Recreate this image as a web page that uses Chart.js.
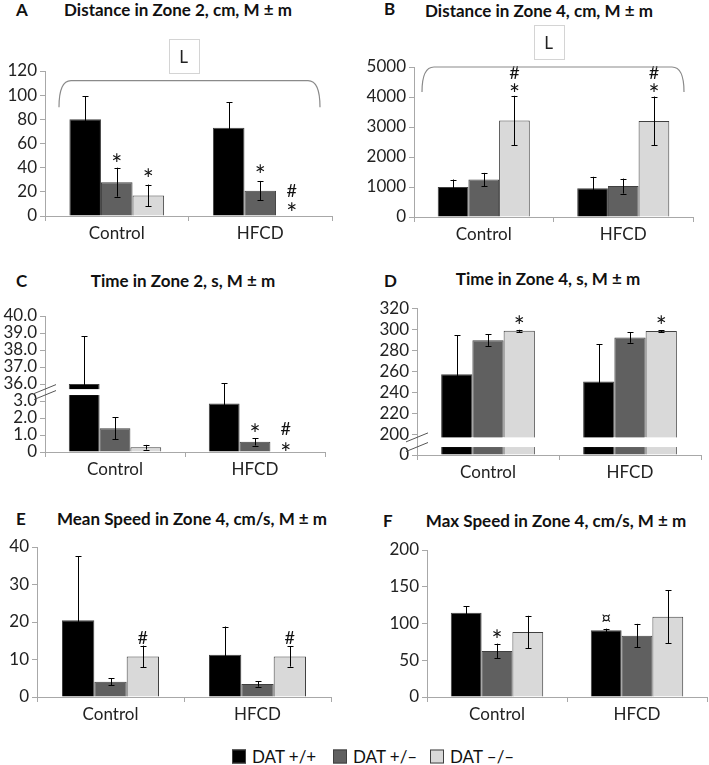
<!DOCTYPE html>
<html>
<head>
<meta charset="utf-8">
<script src="https://cdn.jsdelivr.net/npm/chart.js@4.4.1/dist/chart.umd.min.js"></script>
<style>
  body { margin: 0; background: #fff; width: 709px; height: 765px; position: relative; overflow: hidden; font-family: Lato, sans-serif; color: #111; }
  canvas { position: absolute; }
  .letter { position: absolute; font-weight: bold; font-size: 17px; transform: translateY(-50%); }
  .title { position: absolute; font-weight: bold; font-size: 17px; white-space: nowrap; transform: translate(-50%, -50%); }
  .leg { position: absolute; font-size: 17px; white-space: nowrap; transform: translateY(-50%); display: flex; align-items: center; }
  .leg i { display: inline-block; width: 14px; height: 14px; border: 1px solid #404040; box-sizing: border-box; margin-right: 6px; }
</style>
</head>
<body>
<div class="letter" style="left:16px;top:9px">A</div>
<div class="title" style="left:178px;top:9px">Distance in Zone 2, cm, M ± m</div>
<div class="letter" style="left:384px;top:8px">B</div>
<div class="title" style="left:539px;top:10px">Distance in Zone 4, cm, M ± m</div>
<div class="letter" style="left:16px;top:280px">C</div>
<div class="title" style="left:183px;top:280px">Time in Zone 2, s, M ± m</div>
<div class="letter" style="left:384px;top:280px">D</div>
<div class="title" style="left:548px;top:278px">Time in Zone 4, s, M ± m</div>
<div class="letter" style="left:16px;top:518px">E</div>
<div class="title" style="left:192px;top:518px">Mean Speed in Zone 4, cm/s, M ± m</div>
<div class="letter" style="left:383px;top:520px">F</div>
<div class="title" style="left:556px;top:520px">Max Speed in Zone 4, cm/s, M ± m</div>

<canvas id="pA" width="354" height="215" style="left:0;top:30px"></canvas>
<canvas id="pB" width="355" height="225" style="left:354px;top:20px"></canvas>
<canvas id="pC" width="354" height="190" style="left:0;top:300px"></canvas>
<canvas id="pD" width="355" height="195" style="left:354px;top:295px"></canvas>
<canvas id="pE" width="354" height="200" style="left:0;top:530px"></canvas>
<canvas id="pF" width="355" height="200" style="left:354px;top:530px"></canvas>

<div id="legend"></div>

<script>
const groups = ['Control', 'HFCD'];
const genotypes = ['DAT +/+', 'DAT +/–', 'DAT –/–'];

// one row per genotype, columns = [Control, HFCD]
const distZone2 = [[80, 73], [28, 21], [17, 0]];
const distZone2Err = [[19, 21], [12, 8], [9, 0]];
const distZone4 = [[1000, 960], [1250, 1030], [3220, 3200]];
const distZone4Err = [[250, 380], [220, 250], [820, 815]];
const timeZone2 = [[36.0, 2.85], [1.4, 0.6], [0.28, 0]];
const timeZone2Err = [[2.8, 1.2], [0.65, 0.22], [0.14, 0]];
const timeZone4 = [[257, 250], [289.5, 292], [298.4, 298.2]];
const timeZone4Err = [[37, 35.5], [5.5, 5], [1, 1]];
const meanSpeed = [[20.5, 11.3], [4.1, 3.5], [10.8, 10.8]];
const meanSpeedErr = [[17, 7.5], [0.9, 0.75], [2.9, 2.7]];
const maxSpeed = [[114.6, 90.7], [62.6, 83.5], [88.5, 109.3]];
const maxSpeedErr = [[9, 2.3], [10, 16], [22, 36]];

const timeZone2Ticks = ['0', '1.0', '2.0', '3.0', '36.0', '37.0', '38.0', '39.0', '40.0'];
const timeZone4Ticks = ['0', '200', '220', '240', '260', '280', '300', '320'];

// significance marks: [group, genotype, symbol, value at the symbol's centre]
const marksA = [[0, 1, '*', 48.5], [0, 2, '*', 36], [1, 1, '*', 39.5], [1, 2, '#', 21.4], [1, 2, '*', 8.2]];
const marksB = [[0, 2, '#', 4830], [0, 2, '*', 4330], [1, 2, '#', 4830], [1, 2, '*', 4330]];
const marksC = [[1, 1, '*', 1.45], [1, 2, '#', 1.4], [1, 2, '*', 0.3]];
const marksD = [[0, 2, '*', 309], [1, 2, '*', 309]];
const marksE = [[0, 2, '#', 16], [1, 2, '#', 16]];
const marksF = [[0, 1, '*', 87], [1, 0, '¤', 107.5]];

const barColors = ['#000000', '#606060', '#d9d9d9'];
const axisColor = '#a8a8a8';
const font = "Lato, sans-serif";

const extras = {
    id: 'extras',
    afterDatasetsDraw(chart, args, o) {
        const ctx = chart.ctx, xs = chart.scales.x, ys = chart.scales.y;
        const toAxis = o.toAxis;
        ctx.save();
        // error bars
        ctx.strokeStyle = '#000';
        ctx.lineWidth = 1;
        o.means.forEach((row, gi) => {
            const meta = chart.getDatasetMeta(gi);
            row.forEach((v, ci) => {
                const e = o.errs[gi][ci];
                if (!e) return;
                let lo, hi;
                if (o.errAxisUnits) { lo = toAxis(v) - e; hi = toAxis(v) + e; }
                else { lo = toAxis(v - e); hi = toAxis(v + e); }
                const x = Math.round(meta.data[ci].x) + 0.5;
                const y1 = ys.getPixelForValue(lo), y2 = ys.getPixelForValue(hi);
                ctx.beginPath();
                ctx.moveTo(x, y1); ctx.lineTo(x, y2);
                ctx.moveTo(x - 3, Math.round(y1) + 0.5); ctx.lineTo(x + 3, Math.round(y1) + 0.5);
                ctx.moveTo(x - 3, Math.round(y2) + 0.5); ctx.lineTo(x + 3, Math.round(y2) + 0.5);
                ctx.stroke();
            });
        });
        // broken axis gap
        if (o.gap) {
            const yA = ys.getPixelForValue(o.gap[1]), yB = ys.getPixelForValue(o.gap[0]);
            ctx.fillStyle = '#fff';
            chart.data.datasets.forEach((ds, gi) => {
                chart.getDatasetMeta(gi).data.forEach((bar, ci) => {
                    if (ds.data[ci] > o.gap[1]) ctx.fillRect(bar.x - bar.width / 2 - 1, yA, bar.width + 2, yB - yA);
                });
            });
            const ax = xs.left;
            ctx.strokeStyle = '#555';
            ctx.beginPath();
            [yA, yB].forEach(y => { ctx.moveTo(ax - 11, y + 4.5); ctx.lineTo(ax + 11, y - 4.5); });
            ctx.stroke();
        }
        // significance marks, centred on their glyph
        ctx.fillStyle = '#111';
        ctx.textAlign = 'center';
        ctx.textBaseline = 'alphabetic';
        o.marks.forEach(([ci, gi, s, v]) => {
            ctx.font = (s === '*' ? '26px ' : '18px ') + font;
            const m = ctx.measureText(s);
            const x = chart.getDatasetMeta(gi).data[ci].x;
            const y = ys.getPixelForValue(toAxis(v));
            ctx.fillText(s, x, y + (m.actualBoundingBoxAscent - m.actualBoundingBoxDescent) / 2);
        });
        // interaction bracket with "L" box
        if (o.bracket) {
            const b = o.bracket;
            const x1 = xs.left + b.inL, x2 = xs.right - b.inR;
            const yt = ys.getPixelForValue(b.top), ye = ys.getPixelForValue(b.end);
            ctx.strokeStyle = '#8a8a8a';
            ctx.lineWidth = 1.2;
            ctx.beginPath();
            ctx.moveTo(x1, ye);
            ctx.quadraticCurveTo(x1, yt, x1 + 12, yt);
            ctx.lineTo(x2 - 12, yt);
            ctx.quadraticCurveTo(x2, yt, x2, ye);
            ctx.stroke();
            const cx = (xs.left + xs.right) / 2 - 5;
            ctx.strokeStyle = '#d4d4d4';
            ctx.lineWidth = 1;
            ctx.strokeRect(Math.round(cx - 15) + 0.5, Math.round(yt - 42) + 0.5, 30, 34);
            ctx.font = '17px ' + font;
            ctx.fillStyle = '#222';
            ctx.textBaseline = 'middle';
            ctx.fillText('L', cx, yt - 23);
        }
        ctx.restore();
    }
};

function makePanel(id, means, errs, o) {
    const toAxis = o.toAxis || (v => v);
    const canvas = document.getElementById(id);
    const W = canvas.width, H = canvas.height;
    return new Chart(canvas, {
        type: 'bar',
        data: {
            labels: groups,
            datasets: genotypes.map((g, i) => ({
                label: g,
                data: means[i].map(toAxis),
                backgroundColor: barColors[i],
                borderColor: '#404040',
                borderWidth: 1,
                borderSkipped: 'bottom',
                categoryPercentage: 0.66,
                barPercentage: 1,
            })),
        },
        options: {
            responsive: false,
            animation: false,
            layout: { padding: { top: o.area[1], right: W - o.area[2], left: 0, bottom: 0 } },
            plugins: {
                legend: { display: false },
                tooltip: { enabled: false },
                extras: { means, errs, toAxis, marks: o.marks, gap: o.gap, bracket: o.bracket, errAxisUnits: o.errAxisUnits },
            },
            scales: {
                x: {
                    afterFit: s => { s.height = H - o.area[3]; },
                    grid: { offset: true, drawOnChartArea: false, drawTicks: true, tickLength: 5, color: axisColor },
                    border: { color: axisColor },
                    ticks: { color: '#222', font: { family: font, size: 17 }, padding: 2 },
                },
                y: {
                    min: o.min, max: o.max,
                    afterFit: s => { s.width = o.area[0]; },
                    grid: { drawOnChartArea: false, drawTicks: true, tickLength: 5, color: axisColor },
                    border: { color: axisColor },
                    ticks: {
                        stepSize: o.step, autoSkip: false, color: '#222', font: { family: font, size: o.tickSize || 17 }, padding: 3,
                        callback: o.tickLabels ? (v => o.tickLabels[v]) : (v => v),
                    },
                },
            },
        },
        plugins: [extras],
    });
}

// area = [left, top, right, bottom] of the plot inside its canvas
makePanel('pA', distZone2, distZone2Err, {
    area: [45, 41, 332, 186], min: 0, max: 120, step: 20, marks: marksA,
    bracket: { top: 112, end: 90, inL: 14, inR: 12 },
});
makePanel('pB', distZone4, distZone4Err, {
    area: [60, 47, 339, 197], min: 0, max: 5000, step: 1000, marks: marksB,
    bracket: { top: 5000, end: 4170, inL: 8, inR: 9 },
});
makePanel('pC', timeZone2, timeZone2Err, {
    area: [45, 16, 325, 152], min: 0, max: 8, step: 1, tickLabels: timeZone2Ticks, marks: marksC,
    toAxis: v => (v <= 3 ? v : v - 32), errAxisUnits: true, gap: [3.35, 3.7],
});
makePanel('pD', timeZone4, timeZone4Err, {
    area: [63, 12, 347, 160], min: 0, max: 7, step: 1, tickLabels: timeZone4Ticks, marks: marksD,
    toAxis: v => (v >= 200 ? 1 + (v - 200) / 20 : v / 200), gap: [0.38, 0.84],
});
makePanel('pE', meanSpeed, meanSpeedErr, {
    area: [37, 17, 331, 167], min: 0, max: 40, step: 10, marks: marksE,
});
makePanel('pF', maxSpeed, maxSpeedErr, {
    area: [73, 20, 353, 167], min: 0, max: 200, step: 50, marks: marksF,
});

// legend
const legendX = [232, 333, 430];
const legend = document.getElementById('legend');
genotypes.forEach((g, i) => {
    const d = document.createElement('div');
    d.className = 'leg';
    d.style.left = legendX[i] + 'px';
    d.style.top = '756px';
    d.innerHTML = `<i style="background:${barColors[i]}"></i>${g}`;
    legend.appendChild(d);
});
</script>
</body>
</html>
